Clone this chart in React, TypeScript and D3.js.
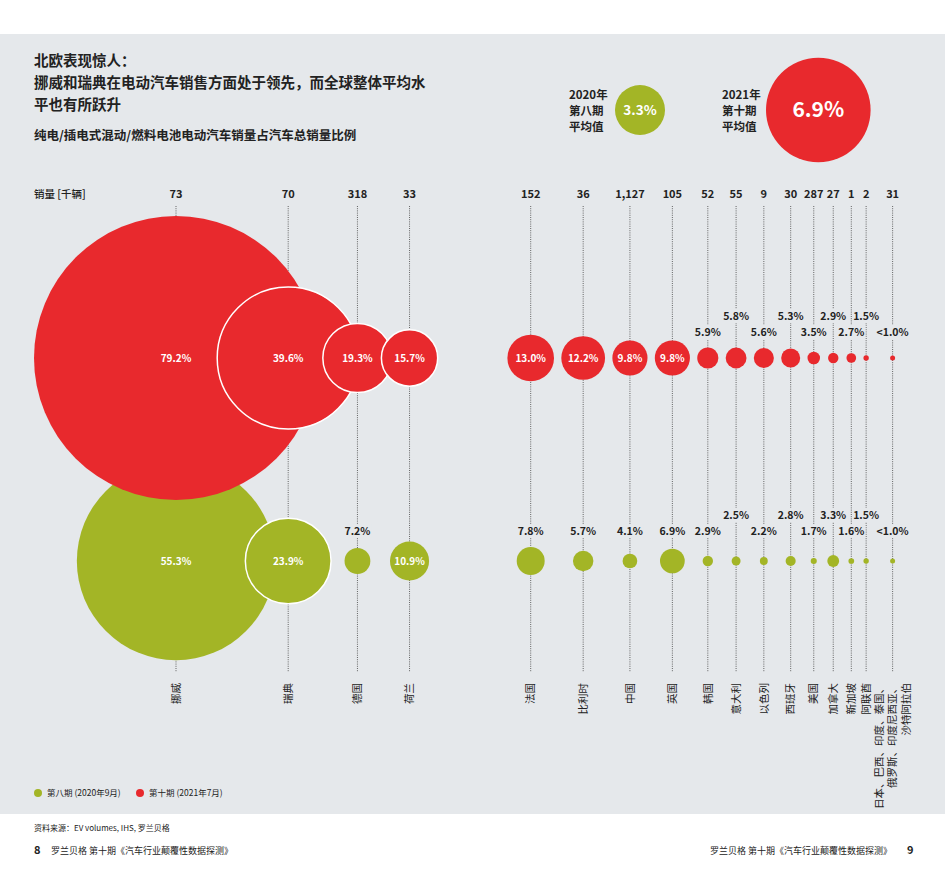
import React from "react";
import * as d3 from "d3";

// ---------- data ----------
const countries = [
  "挪威", "瑞典", "德国", "荷兰",
  "法国", "比利时", "中国", "英国", "韩国", "意大利", "以色列", "西班牙",
  "美国", "加拿大", "新加坡", "阿联酋",
  "日本、巴西、印度、泰国、|俄罗斯、印度尼西亚、|沙特阿拉伯",
];
const groupOf = [0, 0, 0, 0, 1, 1, 1, 1, 1, 1, 1, 1, 1, 1, 1, 1, 1];
const sales = [73, 70, 318, 33, 152, 36, 1127, 105, 52, 55, 9, 30, 287, 27, 1, 2, 31];
const share2021 = [79.2, 39.6, 19.3, 15.7, 13.0, 12.2, 9.8, 9.8, 5.9, 5.8, 5.6, 5.3, 3.5, 2.9, 2.7, 1.5, 1.0];
const share2020 = [55.3, 23.9, 7.2, 10.9, 7.8, 5.7, 4.1, 6.9, 2.9, 2.5, 2.2, 2.8, 1.7, 3.3, 1.6, 1.5, 1.0];
const shareIsUpperBound = countries.map((_, i) => i === countries.length - 1);
const staggeredCountries = ["意大利", "西班牙", "加拿大", "阿联酋"];

const avg2020 = 3.3;
const avg2021 = 6.9;
const avg2020Lines = ["2020年", "第八期", "平均值"];
const avg2021Lines = ["2021年", "第十期", "平均值"];

const titleLines = [
  "北欧表现惊人：",
  "挪威和瑞典在电动汽车销售方面处于领先，而全球整体平均水",
  "平也有所跃升",
];
const subtitle = "纯电/插电式混动/燃料电池电动汽车销量占汽车总销量比例";
const salesHeader = "销量 [千辆]";
const legendItems = ["第八期 (2020年9月)", "第十期 (2021年7月)"];
const sourceText = "资料来源：EV volumes, IHS, 罗兰贝格";
const footerText = "罗兰贝格 第十期《汽车行业颠覆性数据探测》";

// ---------- style ----------
const W = 945;
const H = 888;
const BG = "#e5e8eb";
const RED = "#e8292d";
const GREEN = "#a3b526";
const DARK = "#222222";
const FONT = '"Noto Sans CJK SC", "Noto Sans", sans-serif';

const RED_CY = 358;
const GREEN_CY = 561;
const LINE_TOP = 206;
const LINE_BOTTOM = 672;
const NAME_Y = 683;

export default function App() {
  const rScale = d3.scaleLinear().domain([0, 79.2]).range([0, 142]);
  const avgScale = d3.scaleLinear().domain([0, 6.9]).range([0, 52.3]);
  const fmtCount = d3.format(",");
  const fmtPct = (v: number, i: number) => (shareIsUpperBound[i] ? "<" : "") + v.toFixed(1) + "%";
  const minR = 2.5;
  const rad = (v: number) => Math.max(rScale(v), minR);

  const halfW = countries.map((_, i) => Math.max(rad(share2021[i]), rad(share2020[i])));
  const xs: number[] = [];
  countries.forEach((_, i) => {
    if (i === 0) xs.push(176);
    else if (groupOf[i] !== groupOf[i - 1]) xs.push(530.7);
    else if (groupOf[i] === 0) xs.push(xs[i - 1] + 0.4 * (halfW[i - 1] + halfW[i]) + 27);
    else xs.push(xs[i - 1] + halfW[i - 1] + halfW[i] + 7.3 + (shareIsUpperBound[i] ? 14 : 0));
  });

  const rows = [
    { values: share2020, cy: GREEN_CY, color: GREEN, offset: 30 },
    { values: share2021, cy: RED_CY, color: RED, offset: 26 },
  ];

  const overlapsPrev = (vals: number[], i: number) =>
    i > 0 && groupOf[i] === groupOf[i - 1] && xs[i] - xs[i - 1] < rad(vals[i]) + rad(vals[i - 1]);

  const labelW = (s: string) => s.length * 6 + 4;

  return (
    <svg
      width={W}
      height={H}
      style={{ position: "absolute", left: 0, top: 0, display: "block", background: "#fff" }}
      fontFamily={FONT}
    >
      <rect x={0} y={34} width={W} height={780} fill={BG} />

      {/* titles */}
      {titleLines.map((t, i) => (
        <text key={t} x={34} y={66 + i * 22} fontSize={14.5} fontWeight={700} fill={DARK}>
          {t}
        </text>
      ))}
      <text x={34} y={139.5} fontSize={12.5} fontWeight={700} fill={DARK}>
        {subtitle}
      </text>

      {/* averages */}
      {[
        { lines: avg2020Lines, v: avg2020, color: GREEN, tx: 569, cx: 640, fs: 13.5 },
        { lines: avg2021Lines, v: avg2021, color: RED, tx: 722, cx: 818.3, fs: 21 },
      ].map((a) => (
        <g key={a.tx}>
          {a.lines.map((l, j) => (
            <text key={l} x={a.tx} y={99 + j * 16} fontSize={11.5} fontWeight={700} fill={DARK}>
              {l}
            </text>
          ))}
          <circle cx={a.cx} cy={110} r={avgScale(a.v)} fill={a.color} />
          <text x={a.cx} y={110} dy="0.35em" textAnchor="middle" fontSize={a.fs} fontWeight={700} fill="#fff">
            {a.v.toFixed(1) + "%"}
          </text>
        </g>
      ))}

      {/* sales header and counts */}
      <text x={34} y={198} fontSize={10.5} fontWeight={500} fill={DARK}>
        {salesHeader}
      </text>
      {sales.map((s, i) => (
        <text key={"s" + i} x={xs[i]} y={198} textAnchor="middle" fontSize={11} fontWeight={700} fill={DARK}>
          {fmtCount(s)}
        </text>
      ))}

      {/* dotted guide lines */}
      {xs.map((x, i) => (
        <line
          key={"l" + i}
          x1={x}
          x2={x}
          y1={LINE_TOP}
          y2={LINE_BOTTOM}
          stroke="#555"
          strokeWidth={0.9}
          strokeDasharray="1 1.2"
        />
      ))}

      {/* circles */}
      {rows.map((row) =>
        row.values.map((v, i) => (
          <circle
            key={row.color + i}
            cx={xs[i]}
            cy={row.cy}
            r={rad(v)}
            fill={row.color}
            stroke={overlapsPrev(row.values, i) ? "#fff" : "none"}
            strokeWidth={1.5}
          />
        ))
      )}

      {/* value labels */}
      {rows.map((row) =>
        row.values.map((v, i) => {
          const txt = fmtPct(v, i);
          if (rad(v) >= 15) {
            return (
              <text
                key={"t" + row.color + i}
                x={xs[i]}
                y={row.cy}
                dy="0.35em"
                textAnchor="middle"
                fontSize={10}
                fontWeight={700}
                fill="#fff"
              >
                {txt}
              </text>
            );
          }
          const ly = row.cy - row.offset - (staggeredCountries.includes(countries[i]) ? 16 : 0);
          return (
            <g key={"t" + row.color + i}>
              <rect x={xs[i] - labelW(txt) / 2} y={ly - 7} width={labelW(txt)} height={14} fill={BG} />
              <text x={xs[i]} y={ly} dy="0.35em" textAnchor="middle" fontSize={10.5} fontWeight={700} fill={DARK}>
                {txt}
              </text>
            </g>
          );
        })
      )}

      {/* country names (rotated) */}
      {countries.map((c, i) => {
        const lines = c.split("|");
        return (
          <g key={"n" + i} transform={`translate(${xs[i]},${NAME_Y}) rotate(-90)`}>
            {lines.map((l, j) => (
              <text
                key={l}
                x={0}
                y={(j - (lines.length - 1) / 2) * 13.5}
                dy="0.35em"
                textAnchor="end"
                fontSize={10.5}
                fill={DARK}
              >
                {l}
              </text>
            ))}
          </g>
        );
      })}

      {/* legend */}
      {legendItems.map((l, i) => (
        <g key={l} transform={`translate(${38 + i * 102},793)`}>
          <circle cx={0} cy={0} r={4} fill={i === 0 ? GREEN : RED} />
          <text x={9} y={0} dy="0.35em" fontSize={8.5} fill={DARK}>
            {l}
          </text>
        </g>
      ))}

      {/* footer */}
      <text x={34} y={831} fontSize={8} fill={DARK}>
        {sourceText}
      </text>
      <text x={34} y={854} fontSize={11} fontWeight={700} fill={DARK}>
        8
      </text>
      <text x={51} y={854} fontSize={9} fill={DARK}>
        {footerText}
      </text>
      <text x={892} y={854} textAnchor="end" fontSize={9} fill={DARK}>
        {footerText}
      </text>
      <text x={907} y={854} fontSize={11} fontWeight={700} fill={DARK}>
        9
      </text>
    </svg>
  );
}
